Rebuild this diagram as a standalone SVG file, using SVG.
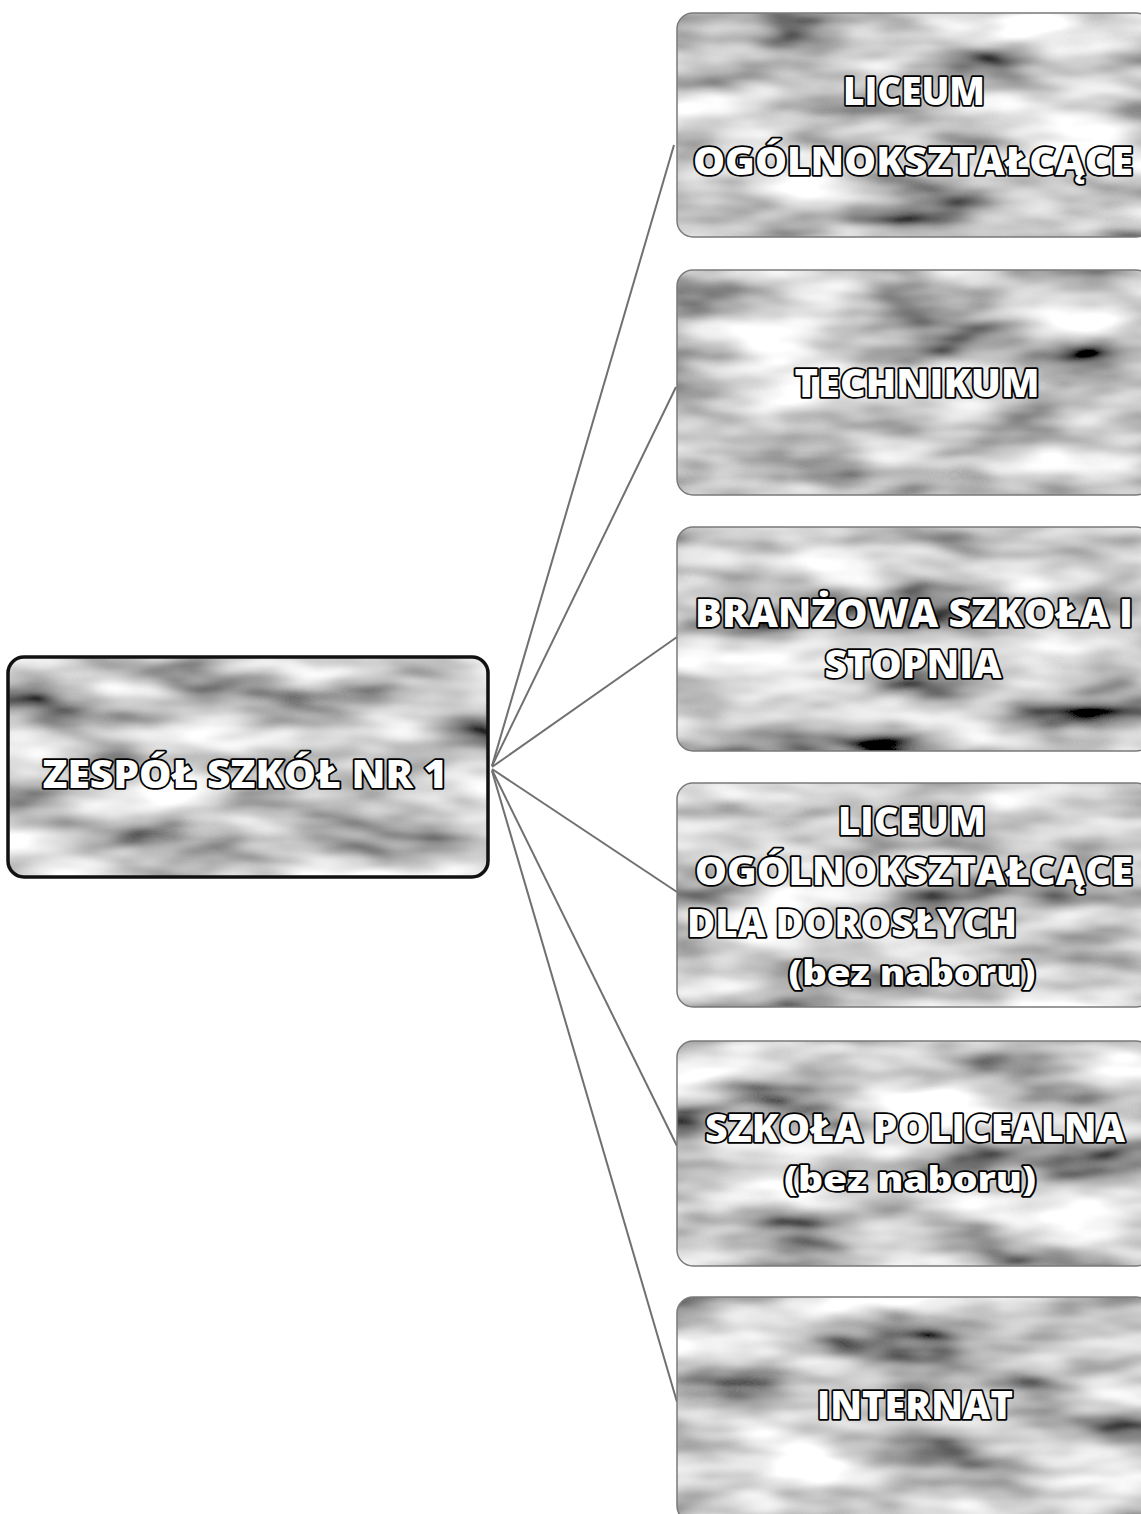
<svg xmlns="http://www.w3.org/2000/svg" width="1141" height="1514" viewBox="0 0 1141 1514">
<defs>
<filter id="tex" filterUnits="objectBoundingBox" x="0" y="0" width="1" height="1">
<feTurbulence type="fractalNoise" baseFrequency="0.007 0.022" numOctaves="3" seed="7" result="n"/>
<feColorMatrix in="n" type="matrix" values="1.8 0 0 0 -0.32  1.8 0 0 0 -0.32  1.8 0 0 0 -0.32  0 0 0 0 1" result="g"/>
<feComposite in="g" in2="SourceGraphic" operator="in"/>
</filter>
</defs>
<style>
.bg{fill:#999;filter:url(#tex)}
.edge{fill:none;stroke:#7a7a7a;stroke-width:1.5}
.edge0{fill:none;stroke:#111;stroke-width:3.5}
.t{font-family:"Open Sans","Noto Sans","DejaVu Sans",sans-serif;font-weight:800;font-size:38px;fill:#fff;stroke:#000;stroke-width:3.5;stroke-linejoin:round;paint-order:stroke;text-anchor:middle}
.p{font-size:33px}
.s{text-anchor:start}
.c{stroke:#707070;stroke-width:2;fill:none}
</style>
<rect width="1141" height="1514" fill="#fff"/>
<g id="connectors">
<line class="c" x1="492" y1="766" x2="674" y2="145"/>
<line class="c" x1="492" y1="766" x2="676" y2="387"/>
<line class="c" x1="492" y1="767" x2="677" y2="637"/>
<line class="c" x1="492" y1="769" x2="677" y2="892"/>
<line class="c" x1="492" y1="770" x2="677" y2="1146"/>
<line class="c" x1="492" y1="771" x2="677" y2="1402"/>
</g>
<g id="node-zespol">
<rect class="bg" x="8" y="657" width="480" height="220" rx="16"/>
<rect class="edge0" x="8" y="657" width="480" height="220" rx="16"/>
<text class="t" x="245" y="788" textLength="405" lengthAdjust="spacingAndGlyphs">ZESPÓŁ SZKÓŁ NR 1</text>
</g>
<g id="node-liceum">
<rect class="bg" x="677" y="13" width="475" height="224" rx="16"/>
<rect class="edge" x="677" y="13" width="475" height="224" rx="16"/>
<text class="t" x="914" y="105" textLength="142" lengthAdjust="spacingAndGlyphs">LICEUM</text>
<text class="t" x="913" y="175" textLength="440" lengthAdjust="spacingAndGlyphs">OGÓLNOKSZTAŁCĄCE</text>
</g>
<g id="node-technikum">
<rect class="bg" x="677" y="270" width="475" height="225" rx="16"/>
<rect class="edge" x="677" y="270" width="475" height="225" rx="16"/>
<text class="t" x="917" y="397" textLength="245" lengthAdjust="spacingAndGlyphs">TECHNIKUM</text>
</g>
<g id="node-branzowa">
<rect class="bg" x="677" y="527" width="475" height="224" rx="16"/>
<rect class="edge" x="677" y="527" width="475" height="224" rx="16"/>
<text class="t" x="914" y="627" textLength="438" lengthAdjust="spacingAndGlyphs">BRANŻOWA SZKOŁA I</text>
<text class="t" x="913" y="678" textLength="177" lengthAdjust="spacingAndGlyphs">STOPNIA</text>
</g>
<g id="node-lo-dorosli">
<rect class="bg" x="677" y="783" width="475" height="224" rx="16"/>
<rect class="edge" x="677" y="783" width="475" height="224" rx="16"/>
<text class="t" x="912" y="835" textLength="148" lengthAdjust="spacingAndGlyphs">LICEUM</text>
<text class="t" x="914" y="885" textLength="438" lengthAdjust="spacingAndGlyphs">OGÓLNOKSZTAŁCĄCE</text>
<text class="t s" x="687" y="937" textLength="330" lengthAdjust="spacingAndGlyphs">DLA DOROSŁYCH</text>
<text class="t p" x="912" y="985" textLength="247" lengthAdjust="spacingAndGlyphs">(bez naboru)</text>
</g>
<g id="node-policealna">
<rect class="bg" x="677" y="1041" width="475" height="225" rx="16"/>
<rect class="edge" x="677" y="1041" width="475" height="225" rx="16"/>
<text class="t" x="915" y="1142" textLength="420" lengthAdjust="spacingAndGlyphs">SZKOŁA POLICEALNA</text>
<text class="t p" x="910" y="1191" textLength="252" lengthAdjust="spacingAndGlyphs">(bez naboru)</text>
</g>
<g id="node-internat">
<rect class="bg" x="677" y="1297" width="475" height="225" rx="16"/>
<rect class="edge" x="677" y="1297" width="475" height="225" rx="16"/>
<text class="t" x="915" y="1419" textLength="196" lengthAdjust="spacingAndGlyphs">INTERNAT</text>
</g>
</svg>
